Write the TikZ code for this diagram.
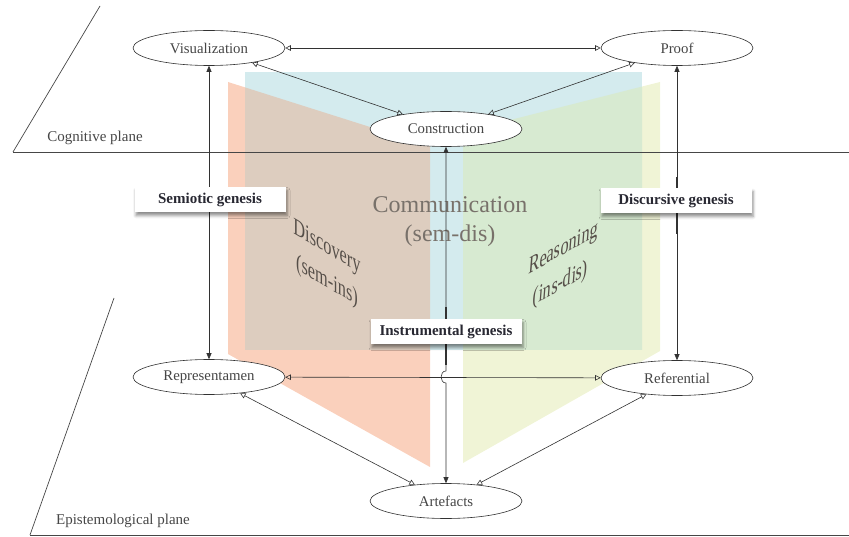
\documentclass[tikz,border=0pt]{standalone}
\usepackage{fontspec}
\setmainfont{Liberation Serif}
\usetikzlibrary{arrows.meta,shadows.blur,shapes.geometric}
\definecolor{salmonc}{RGB}{250,208,188}
\definecolor{bluec}{RGB}{212,235,238}
\definecolor{tanc}{RGB}{221,205,191}
\definecolor{yelc}{RGB}{240,244,214}
\definecolor{greenc}{RGB}{215,234,209}
\definecolor{linec}{RGB}{50,50,50}
\definecolor{nodetext}{RGB}{70,70,70}
\definecolor{boxtext}{RGB}{40,40,50}
\definecolor{commc}{RGB}{120,113,106}
\definecolor{slantc}{RGB}{85,78,72}
\definecolor{planec}{RGB}{70,70,70}
\begin{document}
\begin{tikzpicture}[x=1pt,y=-1pt,
  ell/.style={ellipse, draw=linec, fill=white, line width=0.6pt, minimum width=152pt, minimum height=35pt, inner sep=0pt, font=\fontsize{14.8}{18}\selectfont, text=nodetext},
  gbox/.style={rectangle, fill=white, minimum width=151pt, minimum height=25pt, inner sep=0pt, font=\fontsize{15}{18}\selectfont\bfseries, text=boxtext, blur shadow={shadow xshift=1.5pt, shadow yshift=-3pt, shadow blur radius=3pt, shadow opacity=45}},
  dbl/.style={{Triangle[open,length=5.5pt,width=5.5pt]}-{Triangle[open,length=5.5pt,width=5.5pt]}, draw=linec, line width=0.6pt},
  vfill/.style={{Triangle[length=6pt,width=5pt]}-{Triangle[length=6pt,width=5pt]}, draw=linec, line width=0.6pt},
  plane/.style={draw=planec, line width=0.7pt},
  planelab/.style={font=\fontsize{15}{18}\selectfont, text=nodetext},
  slanttext/.style={font=\fontsize{24}{34}\selectfont, text=slantc, align=center, transform shape, xscale=0.68}
]
\useasboundingbox (0,0) rectangle (849,537);
% panels
\fill[salmonc] (228,82) -- (430,146) -- (430,467) -- (228,354) -- cycle;
\fill[yelc] (463,132) -- (660,82) -- (660,351) -- (463,463) -- cycle;
\fill[bluec] (245,72) rectangle (642,350);
\begin{scope}
  \clip (245,72) rectangle (642,350);
  \fill[tanc] (228,82) -- (430,146) -- (430,467) -- (228,354) -- cycle;
  \fill[greenc] (463,132) -- (660,82) -- (660,351) -- (463,463) -- cycle;
\end{scope}
% planes
\draw[plane] (13,152) -- (849,152);
\draw[plane] (13,152) -- (100,6);
\draw[plane] (30,535) -- (849,535);
\draw[plane] (30,535) -- (114,298);
\node[planelab] (cogl) at (95,138) {Cognitive plane};
\node[planelab] (epil) at (123,521) {Epistemological plane};
% panel texts
\node[font=\fontsize{24}{29}\selectfont, text=commc, align=center] (comm) at (450,222) {Communication\\(sem-dis)};
\begin{scope}[shift={(327,265)}]
  \node[slanttext, yslant=-0.4] (disc) at (0,0) {Discovery\\(sem-ins)};
\end{scope}
\begin{scope}[shift={(562,267)}]
  \node[slanttext, yslant=0.38, xslant=0.12] (reas) at (0,0) {Reasoning\\(ins-dis)};
\end{scope}
% nodes
\node[ell] (vis) at (209,48) {Visualization};
\node[ell] (proof) at (677,48) {Proof};
\node[ell] (con) at (446,129) {Construction};
\node[ell] (rep) at (209,377) {Representamen};
\node[ell] (ref) at (677,378) {Referential};
\node[ell] (art) at (446,501) {Artefacts};
% connectors
\draw[dbl] (vis) -- (proof);
\draw[dbl] (vis) -- (con);
\draw[dbl] (proof) -- (con);
\draw[dbl] (rep) -- (ref);
\draw[dbl] (rep) -- (art);
\draw[dbl] (ref) -- (art);
\draw[vfill] (vis) -- (rep);
\draw[vfill] (proof) -- (ref);
\coordinate (bt) at (446,371);
\coordinate (bb) at (446,383);
\draw[vfill] (con) -- (bt) to[out=180,in=180,looseness=1.4] (bb) -- (art);
% thick segments near boxes
\draw[linec, line width=2.2pt] (677,177) -- (677,189);
\draw[linec, line width=2.2pt] (677,213) -- (677,234);
\draw[linec, line width=2.2pt] (446,307) -- (446,319);
\draw[linec, line width=2.2pt] (446,344) -- (446,365);
% genesis boxes
\node[gbox] (sem) at (210,200) {Semiotic genesis};
\node[gbox] (dis) at (676,201) {Discursive genesis};
\node[gbox] (ins) at (446,332) {Instrumental genesis};
\end{tikzpicture}
\end{document}
